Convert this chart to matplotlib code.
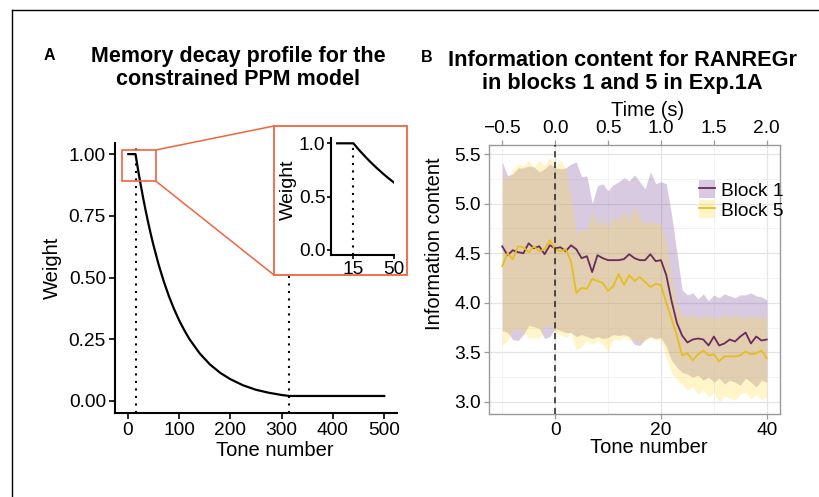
import matplotlib
matplotlib.use("Agg")
import matplotlib.pyplot as plt
from matplotlib.patches import Rectangle, Patch, ConnectionPatch
from matplotlib.lines import Line2D
from matplotlib.ticker import FixedLocator

plt.rcParams['font.family'] = ['Liberation Sans', 'DejaVu Sans']

# ---------------- data ----------------
# Panel A: memory weight of a tone as a function of its distance (tone number)
decay_tone = [1, 15, 20, 25, 30, 35, 40, 45, 50, 60, 70, 80, 90, 100, 110, 120,
              140, 160, 180, 200, 225, 250, 275, 300, 315, 500]
decay_weight = [1.0, 1.0, 0.936, 0.877, 0.821, 0.769, 0.720, 0.674, 0.631, 0.553,
                0.485, 0.425, 0.373, 0.327, 0.287, 0.251, 0.193, 0.148, 0.114,
                0.088, 0.063, 0.045, 0.033, 0.024, 0.020, 0.020]
buffer_end = 15
memory_end = 315

# Panel B: information content around the RAN -> REG transition
tone = list(range(-10, 41))
block1_mean = [4.57, 4.48, 4.53, 4.51, 4.50, 4.60, 4.55, 4.57, 4.49, 4.58,
               4.55, 4.56, 4.52, 4.58, 4.54, 4.45, 4.47, 4.31, 4.48, 4.45,
               4.43, 4.43, 4.43, 4.44, 4.49, 4.45, 4.43, 4.43, 4.49, 4.42,
               4.43, 4.28, 4.02, 3.80, 3.67, 3.60, 3.63, 3.64, 3.63, 3.57,
               3.66, 3.57, 3.59, 3.63, 3.61, 3.66, 3.70, 3.59, 3.66, 3.62, 3.63]
block1_hi = [5.42, 5.28, 5.30, 5.36, 5.36, 5.38, 5.37, 5.32, 5.35, 5.40,
             5.36, 5.35, 5.36, 5.40, 5.42, 5.27, 5.28, 5.00, 5.18, 5.20,
             5.13, 5.19, 5.22, 5.26, 5.23, 5.29, 5.22, 5.15, 5.32, 5.20,
             5.22, 5.20, 4.89, 4.51, 4.13, 4.08, 4.10, 4.04, 4.09, 4.02,
             4.08, 4.05, 4.09, 4.07, 4.05, 4.08, 4.08, 4.10, 4.07, 4.06, 4.03]
block1_lo = [3.72, 3.70, 3.63, 3.62, 3.68, 3.77, 3.76, 3.74, 3.64, 3.66,
             3.74, 3.72, 3.70, 3.70, 3.66, 3.68, 3.66, 3.64, 3.66, 3.64,
             3.65, 3.68, 3.67, 3.68, 3.66, 3.58, 3.57, 3.63, 3.66, 3.64,
             3.65, 3.56, 3.42, 3.35, 3.30, 3.28, 3.25, 3.27, 3.22, 3.25,
             3.20, 3.24, 3.18, 3.22, 3.20, 3.17, 3.24, 3.20, 3.15, 3.22, 3.20]
block5_mean = [4.37, 4.50, 4.44, 4.57, 4.56, 4.51, 4.57, 4.52, 4.54, 4.63,
               4.54, 4.52, 4.54, 4.42, 4.10, 4.15, 4.14, 4.24, 4.22, 4.20,
               4.12, 4.17, 4.29, 4.18, 4.28, 4.22, 4.26, 4.21, 4.16, 4.19,
               4.18, 4.00, 3.84, 3.67, 3.47, 3.49, 3.42, 3.48, 3.52, 3.47,
               3.48, 3.41, 3.46, 3.46, 3.46, 3.47, 3.51, 3.48, 3.49, 3.52, 3.44]
block5_hi = [5.28, 5.25, 5.35, 5.40, 5.38, 5.43, 5.36, 5.44, 5.38, 5.47,
             5.38, 5.44, 5.35, 5.05, 4.70, 4.75, 4.72, 4.92, 4.78, 4.85,
             4.75, 4.88, 4.82, 4.93, 4.83, 4.98, 4.85, 4.80, 4.82, 4.80,
             4.80, 4.60, 4.25, 3.98, 3.87, 3.86, 3.88, 3.84, 3.87, 3.85,
             3.86, 3.84, 3.88, 3.85, 3.87, 3.86, 3.84, 3.87, 3.85, 3.86, 3.84]
block5_lo = [3.57, 3.62, 3.72, 3.74, 3.70, 3.64, 3.65, 3.64, 3.76, 3.78,
             3.70, 3.68, 3.65, 3.70, 3.52, 3.56, 3.62, 3.58, 3.62, 3.58,
             3.50, 3.64, 3.62, 3.66, 3.62, 3.63, 3.60, 3.62, 3.65, 3.62,
             3.62, 3.45, 3.30, 3.22, 3.18, 3.12, 3.15, 3.08, 3.12, 3.05,
             3.10, 3.00, 3.06, 3.04, 3.02, 3.08, 3.10, 3.03, 3.08, 3.02, 3.05]
seconds_per_tone = 0.05
time_ticks = [-0.5, 0.0, 0.5, 1.0, 1.5, 2.0]

# ---------------- figure ----------------
W, H = 819, 497
fig = plt.figure(figsize=(W / 100, H / 100), dpi=100)


def fx(px):
    return px / W


def fy(py):
    return 1 - py / H


def box(l, t, r, b):
    return [fx(l), fy(b), fx(r) - fx(l), fy(t) - fy(b)]


RED = '#F0643F'
TICK_FS = 13.8
LAB_FS = 14.5

# outer frame (top and left edges)
fig.add_artist(Line2D([fx(12), 1], [fy(10), fy(10)], color='black', lw=1.0,
                      transform=fig.transFigure))
fig.add_artist(Line2D([fx(12), fx(12)], [fy(10), 0], color='black', lw=1.0,
                      transform=fig.transFigure))

# ---------------- panel A ----------------
axA = fig.add_axes(box(115, 143, 397, 413), zorder=1)
axA.plot(decay_tone, decay_weight, color='black', lw=1.6, zorder=3)
for xv in (buffer_end, memory_end):
    axA.axvline(xv, color='black', lw=1.5, ls=(0, (1, 2.6)), zorder=2)
axA.set_xlim(-25, 525)
axA.set_ylim(-0.049, 1.045)
axA.set_xticks([0, 100, 200, 300, 400, 500])
axA.set_yticks([0, 0.25, 0.5, 0.75, 1.0])
axA.set_yticklabels(['0.00', '0.25', '0.50', '0.75', '1.00'])
for s in ('top', 'right'):
    axA.spines[s].set_visible(False)
for s in ('left', 'bottom'):
    axA.spines[s].set_linewidth(1.5)
axA.tick_params(length=4, width=1.2, color='black', labelsize=TICK_FS,
                labelcolor='black', pad=2.5)
fig.text(fx(52), fy(268), 'Weight', rotation=90, ha='center', va='center',
         fontsize=LAB_FS)
fig.text(fx(275), fy(456), 'Tone number', ha='center', va='baseline',
         fontsize=LAB_FS)

# zoom rectangle and connectors
zx0, zx1, zy0, zy1 = -12, 55, 0.89, 1.017
axA.add_patch(Rectangle((zx0, zy0), zx1 - zx0, zy1 - zy0, fill=False,
                        edgecolor=RED, lw=1.2, clip_on=False, zorder=4))
for (yd, ypx) in ((zy1, 126), (zy0, 275)):
    fig.add_artist(ConnectionPatch(xyA=(zx1, yd), coordsA=axA.transData,
                                   xyB=(fx(274), fy(ypx)),
                                   coordsB=fig.transFigure,
                                   color=RED, lw=1.1, zorder=1.5))

# inset frame
fig.add_artist(Rectangle((fx(274), fy(275)), fx(407) - fx(274),
                         fy(126) - fy(275), transform=fig.transFigure,
                         facecolor='white', edgecolor=RED, lw=1.3, zorder=2))

axI = fig.add_axes(box(331, 138, 394, 255), zorder=3)
axI.patch.set_alpha(0)
axI.plot(decay_tone, decay_weight, color='black', lw=1.6, zorder=3)
axI.vlines(buffer_end, -0.05, 1.0, color='black', lw=1.5, ls=(0, (1, 2.6)))
axI.set_xlim(-4.3, 50)
axI.set_ylim(-0.05, 1.05)
axI.set_xticks([15, 50])
axI.set_yticks([0.0, 0.5, 1.0])
axI.set_yticklabels(['0.0', '0.5', '1.0'])
for s in ('top', 'right'):
    axI.spines[s].set_visible(False)
for s in ('left', 'bottom'):
    axI.spines[s].set_linewidth(1.5)
axI.tick_params(length=3, width=1.2, color='black', labelsize=TICK_FS,
                labelcolor='black', pad=1)
fig.text(fx(288), fy(190), 'Weight', rotation=90, ha='center', va='center',
         fontsize=LAB_FS - 0.5)

# titles of panel A
fig.text(fx(49), fy(55), 'A', fontsize=11.5, fontweight='bold',
         ha='center', va='center')
fig.text(fx(238), fy(68), 'Memory decay profile for the\nconstrained PPM model',
         fontsize=15.5, fontweight='bold', ha='center', va='center',
         linespacing=1.18)

# ---------------- panel B ----------------
C1_FILL, C1_LINE = '#7F529B', '#6B2A5C'
C5_FILL, C5_LINE = '#FFDE3A', '#E6BE1E'
ALPHA1, ALPHA5 = 0.3, 0.28

axB = fig.add_axes(box(489, 145, 780, 414), zorder=1)
axB.fill_between(tone, block1_lo, block1_hi, color=C1_FILL, alpha=ALPHA1,
                 lw=0, zorder=2)
axB.fill_between(tone, block5_lo, block5_hi, color=C5_FILL, alpha=ALPHA5,
                 lw=0, zorder=2)
axB.plot(tone, block1_mean, color=C1_LINE, lw=1.3, zorder=3)
axB.plot(tone, block5_mean, color=C5_LINE, lw=1.3, zorder=3)
axB.axvline(0, color='#222222', lw=1.1, ls=(0, (4, 3)), zorder=4)

axB.set_xlim(-12.5, 42.5)
axB.set_ylim(2.879, 5.591)
axB.set_xticks([0, 20, 40])
axB.set_yticks([3.0, 3.5, 4.0, 4.5, 5.0, 5.5])
axB.set_yticklabels(['3.0', '3.5', '4.0', '4.5', '5.0', '5.5'])
axB.xaxis.set_minor_locator(FixedLocator([-10, 10, 30]))
axB.yaxis.set_minor_locator(FixedLocator([3.25, 3.75, 4.25, 4.75, 5.25]))
axB.grid(True, which='major', color='#E4E4E4', lw=0.9, zorder=0)
axB.grid(True, which='minor', color='#F1F1F1', lw=0.6, zorder=0)
axB.set_axisbelow(True)
for s in axB.spines.values():
    s.set_color('#9A9A9A')
    s.set_linewidth(1.0)
axB.tick_params(which='major', length=3.5, width=0.9, color='#9A9A9A',
                labelsize=TICK_FS, labelcolor='black', pad=2.5)
axB.tick_params(which='minor', length=0)

top = axB.secondary_xaxis('top', functions=(lambda t: t * seconds_per_tone,
                                             lambda s: s / seconds_per_tone))
top.set_xticks(time_ticks)
top.set_xticklabels(['\u22120.5', '0.0', '0.5', '1.0', '1.5', '2.0'])
top.tick_params(length=3.5, width=0.9, color='#9A9A9A', labelsize=TICK_FS,
                labelcolor='black', pad=2.5)
top.spines['top'].set_visible(False)

fig.text(fx(648), fy(116), 'Time (s)', ha='center', va='baseline',
         fontsize=LAB_FS)
fig.text(fx(649), fy(453), 'Tone number', ha='center', va='baseline',
         fontsize=LAB_FS)
fig.text(fx(434), fy(244), 'Information content', rotation=90, ha='center',
         va='center', fontsize=LAB_FS)

handles = [(Patch(facecolor=C1_FILL, alpha=ALPHA1, lw=0),
            Line2D([], [], color=C1_LINE, lw=1.3)),
           (Patch(facecolor=C5_FILL, alpha=ALPHA5, lw=0),
            Line2D([], [], color=C5_LINE, lw=1.3))]
axB.legend(handles, ['Block 1', 'Block 5'], loc='center left',
           bbox_to_anchor=(fx(689), fy(200)), bbox_transform=fig.transFigure,
           frameon=False, fontsize=TICK_FS, handlelength=0.85, handleheight=1.0,
           handletextpad=0.3, labelspacing=0.05, borderpad=0)

# titles of panel B
fig.text(fx(427), fy(58), 'B', fontsize=11.5, fontweight='bold',
         ha='center', va='center')
fig.text(fx(622), fy(72), 'Information content for RANREGr\nin blocks 1 and 5 in Exp.1A',
         fontsize=15.7, fontweight='bold', ha='center', va='center',
         linespacing=1.18)

fig.savefig('out.png', dpi=100)
